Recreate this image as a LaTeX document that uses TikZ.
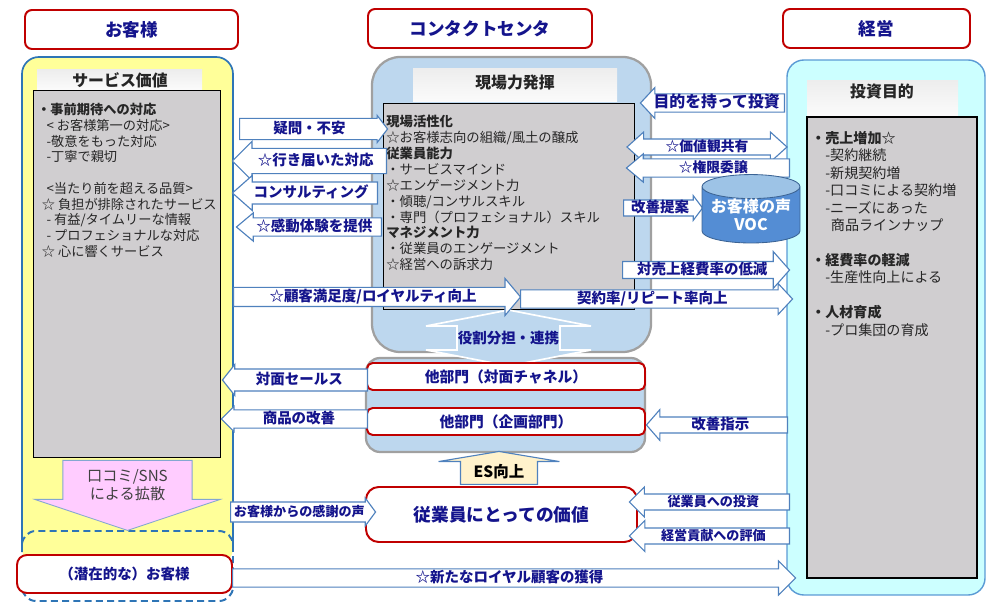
\documentclass[tikz,border=0pt]{standalone}
\usepackage{fontspec}
\setmainfont{Noto Sans CJK JP}
\usetikzlibrary{shapes.arrows,shapes.geometric}
\definecolor{navy}{RGB}{20,20,140}
\definecolor{crimson}{RGB}{192,0,0}
\definecolor{lemon}{RGB}{255,255,153}
\definecolor{steel}{RGB}{46,117,182}
\definecolor{azure}{RGB}{91,155,213}
\definecolor{sky}{RGB}{189,215,238}
\definecolor{mist}{RGB}{204,255,255}
\definecolor{slate}{RGB}{160,160,160}
\definecolor{panelgray}{RGB}{208,206,208}
\definecolor{cornflower}{RGB}{79,129,189}
\definecolor{dbblue}{RGB}{84,141,212}
\definecolor{dbtop}{RGB}{157,195,230}
\definecolor{blush}{RGB}{255,204,255}
\definecolor{cream}{RGB}{255,242,204}
\newcommand\pxu{0.025cm}
\newcommand\lblfont{\fontsize{10.3}{12}\selectfont\bfseries}
\newcommand\smalllbl{\fontsize{9.3}{11}\selectfont\bfseries}
\tikzset{
  panel/.style={fill=#1,inner sep=0pt},
  redbox/.style={draw=crimson,line width=1.4pt,fill=white,rounded corners=#1,
    text=navy,inner sep=0pt,align=center,font=\lblfont},
  redbox/.default=4pt,
  hdr/.style={redbox=5pt,font=\fontsize{12.5}{14}\selectfont\bfseries},
  titlebox/.style={top color=gray!14,bottom color=gray!3,inner sep=0pt},
  titletext/.style={font=\fontsize{11.3}{13}\selectfont\bfseries,text=black!85},
  graybox/.style={draw=black,line width=0.6pt,fill=panelgray,inner sep=0pt},
  bodytext/.style={align=left,inner sep=0pt,anchor=north west,text=black!85},
  barrow/.style={single arrow,draw=cornflower,line width=0.8pt,fill=white,
    text=navy,font=\lblfont,text height=8.5pt,text depth=2pt,
    inner xsep=0pt,inner ysep=#1,single arrow head extend=5pt,
    single arrow tip angle=90,anchor=tail},
  barrow/.default=1pt,
  larrow/.style={barrow=#1,shape border rotate=180},
  larrow/.default=1pt,
  darrow/.style={double arrow,draw=cornflower,line width=0.8pt,fill=white,
    text=navy,font=\lblfont,text height=8.5pt,text depth=2pt,
    inner xsep=0pt,inner ysep=0pt},
}
\begin{document}
\begin{tikzpicture}[x=\pxu,y=-\pxu]
\useasboundingbox (0,0) rectangle (1000,615);
% columns
\fill[lemon,rounded corners=12pt] (22,565) |- (127,57) -| (233,565) -- cycle;
\draw[steel,line width=1.2pt,rounded corners=12pt] (22,545) |- (127,57) -| (233,545);
\draw[steel,line width=1.4pt,dash pattern=on 5pt off 3pt,rounded corners=10pt] (22,531) rectangle (233,601);
\node[panel=sky,draw=slate,line width=1.6pt,rounded corners=20pt,minimum width=279*\pxu,minimum height=295*\pxu] (ctr) at (511.5,204.5) {};
\node[panel=sky,draw=slate,line width=1.6pt,rounded corners=10pt,minimum width=279*\pxu,minimum height=94*\pxu] (dept) at (505.5,405) {};
\node[panel=mist,draw=azure,line width=1pt,rounded corners=12pt,minimum width=198*\pxu,minimum height=535*\pxu] (mgt) at (886,327.5) {};

% value boxes
\node[titlebox,minimum width=165*\pxu,minimum height=20*\pxu] (svctitle) at (119.5,80) {};
\node[titletext] (svclbl) at (120,80) {サービス価値};
\node[graybox,minimum width=187*\pxu,minimum height=367*\pxu] (svcbox) at (126.5,273.5) {};
\node[bodytext,font=\fontsize{9.4}{11.2}\selectfont] (svctext) at (37,103) {%
  \textbf{・事前期待への対応}\\
  \hspace*{0.7em}< お客様第一の対応>\\
  \hspace*{0.7em}-敬意をもった対応\\
  \hspace*{0.7em}-丁寧で親切\\
  ~\\
  \hspace*{0.7em}<当たり前を超える品質>\\
  \hspace*{0.35em}☆ 負担が排除されたサービス\\
  \hspace*{0.7em}- 有益/タイムリーな情報\\
  \hspace*{0.7em}- プロフェショナルな対応\\
  \hspace*{0.35em}☆ 心に響くサービス};

\node[titlebox,minimum width=204*\pxu,minimum height=33*\pxu] (genbatitle) at (515,85.5) {};
\node[titletext] (genbalbl) at (515,83) {現場力発揮};
\node[graybox,minimum width=251*\pxu,minimum height=206*\pxu] (genbabox) at (508.5,206) {};
\node[bodytext,font=\fontsize{9.5}{11.3}\selectfont] (genbatext) at (386,115) {%
  \textbf{現場活性化}\\
  ☆お客様志向の組織/風土の醸成\\
  \textbf{従業員能力}\\
  ・サービスマインド\\
  ☆エンゲージメント力\\
  ・傾聴/コンサルスキル\\
  ・専門（プロフェショナル）スキル\\
  \textbf{マネジメント力}\\
  ・従業員のエンゲージメント\\
  ☆経営への訴求力};

\node[titlebox,minimum width=151*\pxu,minimum height=35*\pxu] (invtitle) at (882.5,98.5) {};
\node[titletext] (invlbl) at (882,92) {投資目的};
\node[graybox,line width=0.9pt,minimum width=170*\pxu,minimum height=461*\pxu] (invbox) at (892,347.5) {};
\node[bodytext,font=\fontsize{10}{12.4}\selectfont] (invtext) at (811,131) {%
  \textbf{・売上増加☆}\\
  \hspace*{1em}-契約継続\\
  \hspace*{1em}-新規契約増\\
  \hspace*{1em}-口コミによる契約増\\
  \hspace*{1em}-ニーズにあった\\
  \hspace*{1.4em}商品ラインナップ\\
  ~\\
  \textbf{・経費率の軽減}\\
  \hspace*{1em}-生産性向上による\\
  ~\\
  \textbf{・人材育成}\\
  \hspace*{1em}-プロ集団の育成};

% vertical arrows
\node[single arrow,shape border rotate=270,anchor=tail,draw=cornflower!70,fill=blush,line width=0.6pt,
  minimum height=70*\pxu,inner xsep=17pt,inner ysep=2pt,single arrow head extend=20pt,
  single arrow tip angle=143,align=center,font=\fontsize{10.8}{12.8}\selectfont,text=black!75] (spread) at (127.5,460) {口コミ/SNS\\による拡散};
\node[double arrow,shape border rotate=90,draw=white,line width=1.2pt,fill=sky,text=navy,font=\lblfont,
  inner xsep=0pt,inner ysep=1pt,minimum height=56*\pxu,double arrow head extend=22pt,
  double arrow tip angle=158] (role) at (508.5,338) {役割分担・連携};
\node[single arrow,shape border rotate=90,anchor=tail,draw=cornflower,fill=cream,line width=0.8pt,
  font=\fontsize{11}{13}\selectfont\bfseries,inner xsep=9pt,inner ysep=1pt,minimum height=33*\pxu,
  single arrow head extend=15.6pt,single arrow tip angle=161] (es) at (499,485) {ES向上};

% red boxes
\node[hdr,minimum width=213*\pxu,minimum height=39*\pxu] (hcust) at (131.5,29.5) {お客様};
\node[hdr,minimum width=224*\pxu,minimum height=39*\pxu] (hctr) at (480,28.5) {コンタクトセンタ};
\node[hdr,minimum width=187*\pxu,minimum height=39*\pxu] (hmgt) at (876.5,28.5) {経営};
\node[redbox,minimum width=278*\pxu,minimum height=27*\pxu,font=\fontsize{10.5}{12}\selectfont\bfseries] (dept1) at (506,376.5) {他部門（対面チャネル）};
\node[redbox,minimum width=278*\pxu,minimum height=27*\pxu,font=\fontsize{10.5}{12}\selectfont\bfseries] (dept2) at (506,421.5) {他部門（企画部門）};
\node[redbox=9pt,minimum width=271*\pxu,minimum height=55*\pxu,font=\fontsize{12.6}{14}\selectfont\bfseries] (empval) at (501.5,514.5) {従業員にとっての価値};
\node[redbox=7pt,minimum width=215*\pxu,minimum height=38*\pxu] (prospect) at (124.5,574) {（潜在的な）お客様};

% block arrows
\node[barrow=1.9pt,single arrow head extend=2.1pt,single arrow tip angle=105,minimum height=148*\pxu] (ask) at (239,129) {疑問・不安};
\node[larrow=3.3pt,minimum height=154*\pxu] (care) at (387,161) {☆行き届いた対応};
\node[larrow=2.2pt,single arrow head extend=4.6pt,single arrow tip angle=83,minimum height=145*\pxu] (consult) at (378,193) {コンサルティング};
\node[larrow=0.8pt,single arrow head extend=3.6pt,single arrow tip angle=80,minimum height=145*\pxu] (impress) at (382,227) {☆感動体験を提供};
\node[barrow=1.15pt,single arrow head extend=6.4pt,single arrow tip angle=100,minimum height=287*\pxu] (loyal) at (233,297) {☆顧客満足度/ロイヤルティ向上};
\node[barrow=0.8pt,single arrow head extend=4.6pt,single arrow tip angle=94,minimum height=272*\pxu] (repeat) at (520,299) {契約率/リピート率向上};
\node[larrow=0.8pt,single arrow head extend=4.6pt,single arrow tip angle=94,minimum height=144*\pxu,font=\fontsize{11.3}{13}\selectfont\bfseries] (invest) at (785,103) {目的を持って投資};
\node[darrow,double arrow head extend=5pt,double arrow tip angle=84,minimum height=160*\pxu,font=\fontsize{9.8}{12}\selectfont\bfseries] (share) at (707,147) {☆価値観共有};
\node[larrow=0.8pt,single arrow head extend=3.6pt,single arrow tip angle=80,minimum height=163*\pxu,font=\fontsize{9.8}{12}\selectfont\bfseries] (empower) at (790,168) {☆権限委譲};
\node[barrow=0pt,single arrow head extend=3.2pt,single arrow tip angle=106,minimum height=79*\pxu] (kaizen) at (623,208) {改善提案};
\node[barrow=0.4pt,single arrow head extend=7.1pt,single arrow tip angle=97,minimum height=167*\pxu] (cost) at (622,270) {対売上経費率の低減};
\node[larrow=2.2pt,single arrow head extend=3.2pt,single arrow tip angle=103,minimum height=145*\pxu] (sales) at (368,380) {対面セールス};
\node[larrow=0.8pt,single arrow head extend=2.5pt,minimum height=146*\pxu] (improve) at (368,419) {商品の改善};
\node[barrow=1.5pt,single arrow head extend=2.8pt,single arrow tip angle=107,minimum height=145*\pxu,font=\smalllbl] (thanks) at (230,512) {お客様からの感謝の声};
\node[larrow=0pt,single arrow head extend=5.3pt,single arrow tip angle=98,minimum height=141*\pxu] (instruct) at (788,425) {改善指示};
\node[larrow=0pt,minimum height=160*\pxu,font=\smalllbl] (empinv) at (790,502) {従業員への投資};
\node[larrow=0pt,single arrow head extend=5.3pt,minimum height=160*\pxu,font=\smalllbl] (evalu) at (790,536) {経営貢献への評価};
\node[barrow=0.8pt,single arrow head extend=5.7pt,minimum height=563*\pxu] (newloyal) at (232,578) {☆新たなロイヤル顧客の獲得};

% voice of customer
\node[cylinder,shape border rotate=90,aspect=0.3,cylinder uses custom fill,cylinder body fill=dbblue,
  cylinder end fill=dbtop,draw=dbblue!70!black,line width=0.6pt,minimum height=60*\pxu,
  minimum width=98*\pxu,inner sep=0pt,align=center,text=white,
  font=\fontsize{11.4}{12.8}\selectfont\bfseries] (voc) at (751,215) {お客様の声\\VOC};
\end{tikzpicture}
\end{document}
